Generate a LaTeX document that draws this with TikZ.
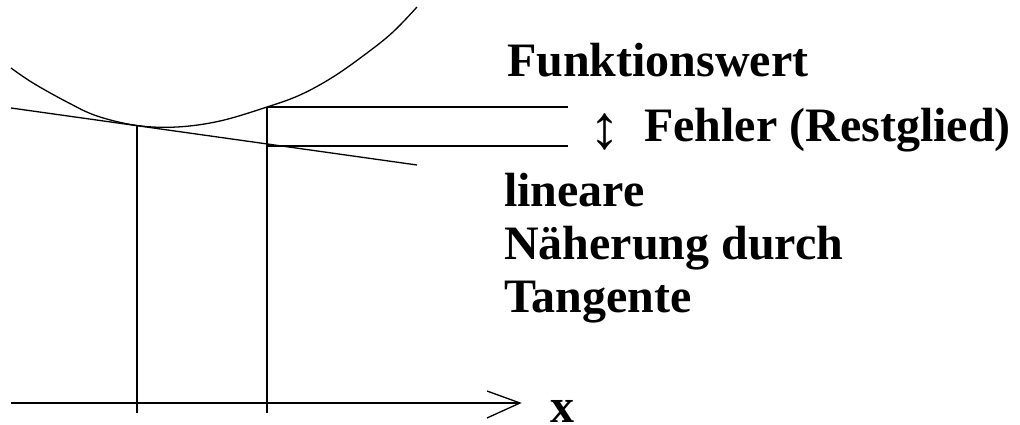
\documentclass[tikz,border=0pt]{standalone}
\usepackage{fontspec}
\setmainfont{Liberation Serif}
\begin{document}
\begin{tikzpicture}[x=1pt,y=-1pt,
  ln/.style={line width=1.3pt,black},
  lbl/.style={inner sep=0pt,anchor=base west,font=\fontsize{48}{48}\selectfont\bfseries},
  sym/.style={inner sep=0pt,anchor=base,font=\fontsize{62}{62}\selectfont}]
\useasboundingbox (0,0) rectangle (1020,425);
% key points
\coordinate (ax0) at (11,403);
\coordinate (axtip) at (520,403);
\coordinate (t0) at (11,108);
\coordinate (t1) at (417,165);
\coordinate (p0) at (137,125.5);
\coordinate (p1) at (267,107);
\coordinate (q1) at (267,146);
\coordinate (b0) at (137,413);
\coordinate (b1) at (267,413);
\coordinate (h1) at (568,107);
\coordinate (h2) at (568,146);
% curve
\draw[ln] plot[smooth,tension=0.6] coordinates {(11,68) (33,83) (67,102) (97,116) (137,125.5) (177,127) (220,121) (267,107) (300,95) (333,77) (367,53) (393,32) (417,7)};
% tangent
\draw[ln] (t0) -- (t1);
% verticals
\draw[ln] (p0) -- (b0);
\draw[ln] (p1) -- (b1);
% horizontals
\draw[ln] (p1) -- (h1);
\draw[ln] (q1) -- (h2);
% axis
\draw[ln] (ax0) -- (axtip);
\coordinate (ah1) at (487,391);
\coordinate (ah2) at (487,418);
\draw[ln] (ah1) -- (axtip) -- (ah2);
% labels
\node[lbl] (fw) at (507,77) {Funktionswert};
\node[sym] (arr) at (605,149) {↕};
\node[lbl] (fe) at (644,142) {Fehler (Restglied)};
\node[lbl] (l1) at (504,206) {lineare};
\node[lbl] (l2) at (504,259) {Näherung durch};
\node[lbl] (l3) at (504,312) {Tangente};
\node[lbl] (xl) at (550,422) {x};
\end{tikzpicture}
\end{document}
